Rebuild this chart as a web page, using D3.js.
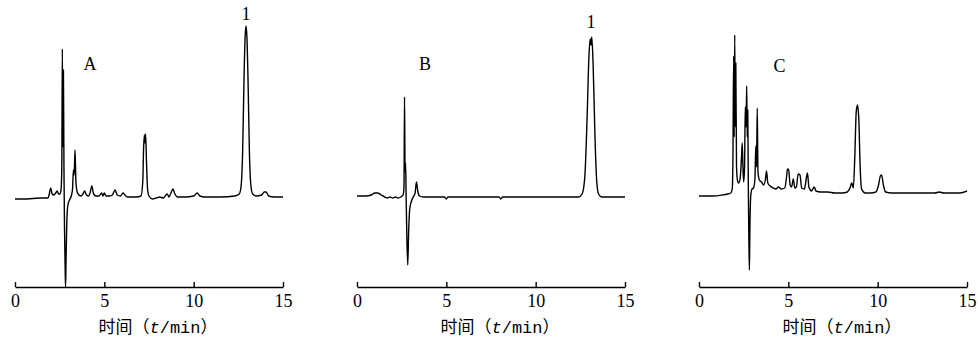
<!DOCTYPE html>
<html>
<head>
<meta charset="utf-8">
<script src="https://cdn.jsdelivr.net/npm/d3@7"></script>
<style>
  body { margin: 0; background: #fff; }
  svg { display: block; }
</style>
</head>
<body>
<div id="chart"></div>
<script>
// chromatogram readings: [time (min), signal (arbitrary units, baseline 0)]
const traceA = [
  [0, -2], [0.5, -2], [1.0, -1.5], [1.5, -1], [1.85, -1], [1.92, 3], [2.0, 9], [2.08, 3],
  [2.18, 2], [2.28, 4], [2.36, 6], [2.44, 3], [2.52, 3], [2.58, 8], [2.62, 30], [2.65, 148],
  [2.68, 50], [2.71, 127], [2.74, 30], [2.77, -30], [2.81, -75], [2.83, -90], [2.86, -60],
  [2.9, -25], [2.96, -8], [3.05, -3], [3.15, 1], [3.22, 8], [3.27, 27], [3.31, 22], [3.36, 47],
  [3.41, 15], [3.48, 5], [3.58, 2], [3.7, 1], [3.8, 3], [3.9, 6], [4.0, 2], [4.12, 1], [4.2, 4],
  [4.3, 11], [4.4, 3], [4.55, 1], [4.7, 1], [4.85, 4], [4.92, 1], [5.0, 4], [5.1, 1], [5.3, 1],
  [5.45, 2], [5.6, 7], [5.72, 2], [5.9, 1], [6.05, 4], [6.15, 2], [6.3, 0], [6.8, 0], [7.05, 1],
  [7.15, 15], [7.2, 50], [7.24, 62], [7.28, 54], [7.31, 63], [7.36, 35], [7.42, 8], [7.5, 1],
  [7.7, -2], [7.9, -1], [8.1, 0], [8.3, -1], [8.45, 2], [8.52, 3], [8.62, 0], [8.75, 5],
  [8.84, 8], [8.95, 3], [9.1, 0], [9.5, 0], [10.0, 1], [10.2, 4], [10.35, 1], [10.6, 0],
  [11.5, 0], [12.3, 1], [12.55, 3], [12.65, 10], [12.74, 45], [12.82, 120], [12.88, 160],
  [12.93, 171], [12.98, 160], [13.04, 120], [13.12, 45], [13.2, 12], [13.3, 3], [13.5, 1],
  [13.8, 2], [13.95, 5], [14.05, 5], [14.2, 1], [14.5, 0], [15, 0]
];

const traceB = [
  [0, 1], [0.5, 1], [0.8, 2], [1.0, 4], [1.15, 4], [1.35, 2], [1.55, 0], [1.7, -1], [1.85, 0],
  [2.0, -1], [2.15, 0], [2.3, -1], [2.45, 0], [2.58, 2], [2.63, 10], [2.66, 100], [2.69, 25],
  [2.72, 34], [2.75, 0], [2.79, -40], [2.84, -68], [2.89, -35], [2.95, -12], [3.05, -4],
  [3.15, 0], [3.25, 4], [3.33, 15], [3.4, 6], [3.5, 1], [3.7, 0], [4.9, 0], [5.0, -2], [5.1, 0],
  [7.95, 0], [8.05, -2], [8.15, 0], [12.4, 0], [12.6, 3], [12.75, 20], [12.88, 80], [12.98, 140],
  [13.05, 158], [13.1, 152], [13.14, 160], [13.22, 130], [13.32, 60], [13.42, 15], [13.52, 3],
  [13.7, 0], [15, 0]
];

const traceC = [
  [0, 1], [0.8, 1], [1.3, 2], [1.6, 3], [1.78, 4], [1.86, 8], [1.9, 40], [1.94, 141], [1.97, 60],
  [2.0, 162], [2.03, 70], [2.06, 134], [2.1, 30], [2.16, 16], [2.22, 14], [2.3, 18], [2.38, 40],
  [2.42, 54], [2.46, 30], [2.5, 15], [2.55, 30], [2.59, 90], [2.63, 70], [2.67, 111], [2.7, 60],
  [2.73, 87], [2.76, 10], [2.79, -40], [2.82, -73], [2.85, -30], [2.9, 2], [2.97, 8], [3.05, 9],
  [3.13, 18], [3.18, 51], [3.22, 30], [3.26, 89], [3.3, 25], [3.38, 17], [3.5, 15], [3.62, 12],
  [3.72, 18], [3.78, 26], [3.85, 14], [3.98, 11], [4.15, 9], [4.3, 8], [4.45, 10], [4.6, 8],
  [4.8, 9], [4.9, 20], [4.95, 28], [5.02, 27], [5.1, 12], [5.18, 10], [5.28, 18], [5.36, 9],
  [5.45, 10], [5.55, 23], [5.65, 22], [5.75, 9], [5.9, 8], [6.0, 18], [6.07, 24], [6.15, 10],
  [6.3, 6], [6.45, 10], [6.55, 6], [6.8, 5], [7.2, 5], [7.6, 4], [8.0, 4], [8.3, 5], [8.45, 9],
  [8.55, 14], [8.64, 9], [8.72, 40], [8.8, 85], [8.87, 92], [8.94, 80], [9.02, 30], [9.1, 8],
  [9.3, 4], [9.6, 4], [9.9, 5], [10.05, 12], [10.15, 21], [10.22, 22], [10.32, 12], [10.45, 5],
  [10.8, 4], [11.5, 4], [12.5, 4], [13.2, 4], [13.45, 5], [13.7, 4], [14.2, 4], [14.6, 4], [15, 6]
];

const panelNames = ['A', 'B', 'C'];
const tickValues = [0, 5, 10, 15];
// panel letter position [time, signal]
const nameAt = [[4.2, 127], [3.8, 127], [4.5, 125]];
// peak labels per panel: [time, signal, text]
const peakLabels = [[[12.93, 177, '1']], [[13.1, 169, '1']], []];

const width = 978;
const height = 343;
const panelLeft = [15, 357, 699];
const panelWidth = 268;
const axisY = 287;

const svg = d3.select('#chart').append('svg')
  .attr('width', width)
  .attr('height', height);

// signal scale shared by all panels
const y = d3.scaleLinear().domain([-90, 180]).range([axisY, 17]);

const traces = [traceA, traceB, traceC];

traces.forEach((trace, i) => {
  const x = d3.scaleLinear().domain([0, 15]).range([panelLeft[i], panelLeft[i] + panelWidth]);
  const g = svg.append('g');

  const line = d3.line()
    .x((d) => x(d[0]))
    .y((d) => y(d[1]))
    .curve(d3.curveMonotoneX);

  g.append('path')
    .datum(trace)
    .attr('fill', 'none')
    .attr('stroke', '#000')
    .attr('stroke-width', 1.4)
    .attr('stroke-linejoin', 'round')
    .attr('d', line);

  // x axis, ticks pointing up
  const axis = g.append('g')
    .attr('transform', `translate(0,${axisY})`)
    .call(d3.axisBottom(x).tickValues(tickValues).tickSizeInner(-5).tickSizeOuter(0).tickPadding(7));
  axis.select('.domain').attr('stroke', '#000').attr('stroke-width', 1.4);
  axis.selectAll('.tick line').attr('stroke', '#000').attr('stroke-width', 1.4);
  axis.selectAll('.tick text')
    .attr('fill', '#000')
    .style('font-family', '"Liberation Serif", "DejaVu Serif", serif')
    .style('font-size', '18px');

  // axis title
  const title = g.append('text')
    .attr('x', x(7.5) + 9)
    .attr('y', 333)
    .attr('text-anchor', 'middle')
    .style('font-family', '"Noto Sans CJK SC", sans-serif')
    .style('font-size', '17px')
    .attr('fill', '#000');
  title.append('tspan').text('时间（');
  title.append('tspan')
    .style('font-family', '"Liberation Mono", monospace')
    .style('font-size', '17px')
    .style('font-style', 'italic')
    .text('t');
  title.append('tspan')
    .style('font-family', '"Liberation Mono", monospace')
    .style('font-size', '17px')
    .text('/min');
  title.append('tspan').text('）');

  // panel letter
  g.append('text')
    .attr('x', x(nameAt[i][0]))
    .attr('y', y(nameAt[i][1]))
    .attr('text-anchor', 'middle')
    .style('font-family', '"Liberation Serif", "DejaVu Serif", serif')
    .style('font-size', '18px')
    .attr('fill', '#000')
    .text(panelNames[i]);

  g.selectAll('.peak-label')
    .data(peakLabels[i])
    .enter()
    .append('text')
    .attr('class', 'peak-label')
    .attr('x', (d) => x(d[0]))
    .attr('y', (d) => y(d[1]))
    .attr('text-anchor', 'middle')
    .style('font-family', '"Liberation Serif", "DejaVu Serif", serif')
    .style('font-size', '18px')
    .attr('fill', '#000')
    .text((d) => d[2]);
});
</script>
</body>
</html>
